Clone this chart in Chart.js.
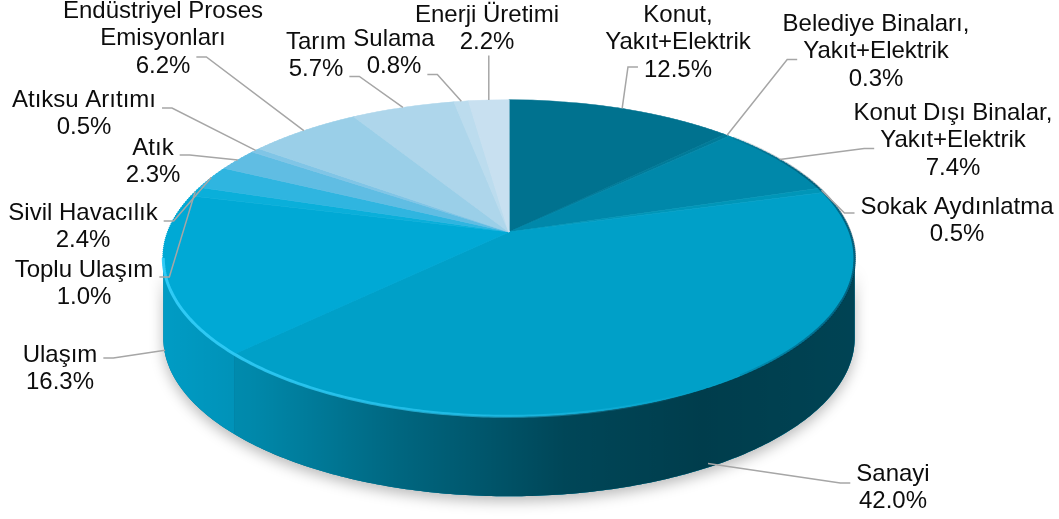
<!DOCTYPE html>
<html lang="tr">
<head>
<meta charset="UTF-8">
<title>Sektörlere Göre Emisyon Dağılımı</title>
<script src="https://cdn.jsdelivr.net/npm/chart.js"></script>
<style>
  html, body { margin: 0; padding: 0; background: #fff; }
</style>
</head>
<body>
<canvas id="myChart" width="1059" height="519"></canvas>
<script>
// sectors, clockwise from 12 o'clock
const sectors = [
  ["Konut,", "Yakıt+Elektrik"],
  ["Belediye Binaları,", "Yakıt+Elektrik"],
  ["Konut Dışı Binalar,", "Yakıt+Elektrik"],
  ["Sokak Aydınlatma"],
  ["Sanayi"],
  ["Ulaşım"],
  ["Toplu Ulaşım"],
  ["Sivil Havacılık"],
  ["Atık"],
  ["Atıksu Arıtımı"],
  ["Endüstriyel Proses", "Emisyonları"],
  ["Tarım"],
  ["Sulama"],
  ["Enerji Üretimi"]
];
const shares = [12.5, 0.3, 7.4, 0.5, 42.0, 16.3, 1.0, 2.4, 2.3, 0.5, 6.2, 5.7, 0.8, 2.2];
const sliceColors = [
  "#00728f", "#007b99", "#0088aa", "#0096b8", "#00a0c8", "#00a9d5", "#0aafda",
  "#2fb5e0", "#60bde3", "#80c5e6", "#9acfe8", "#aed6eb", "#bcdcee", "#c8e0f0"
];

// where each label sits: first line centre, which line the leader leaves from
const labelSpots = [
  { x: 678, y: 15,  line: 2, side: "l", dy: -3 },
  { x: 876, y: 24,  line: 1, side: "l", dy: 8 },
  { x: 953, y: 113, line: 1, side: "l", dy: 8 },
  { x: 957, y: 207, line: 0, side: "l", dy: 6 },
  { x: 893, y: 474, line: 0, side: "l", dy: 9 },
  { x: 60,  y: 355, line: 0, side: "r", dy: 3 },
  { x: 84,  y: 270, line: 0, side: "r", dy: 7 },
  { x: 83,  y: 213, line: 0, side: "r", dy: 8 },
  { x: 153, y: 148, line: 0, side: "r", dy: 7 },
  { x: 84,  y: 100, line: 0, side: "r", dy: 8 },
  { x: 163, y: 11,  line: 2, side: "r", dy: -9 },
  { x: 316, y: 42,  line: 1, side: "r", dy: 7 },
  { x: 394, y: 39,  line: 1, side: "r", dy: 8 },
  { x: 487, y: 15,  line: 1, side: "b", dy: 0 }
];
const lineGap = 27.5;

// tilted disc seen in perspective
const view = { cx: 509, cy: 232, a: 341, b: 154, k: 0.1645, depth: 80 };
const tR = Math.asin(view.k), tL = Math.PI - tR;

function project(u, v) {
  const w = 1 - view.k * v;
  return [view.cx + view.a * u / w, view.cy + view.b * v / w];
}
function rowToV(Y) {
  const d = Y - view.cy;
  return d / (view.b + view.k * d);
}

function rimPath(ctx, t0, t1) {
  const n = Math.max(2, Math.ceil((t1 - t0) * 80));
  ctx.beginPath();
  for (let i = 0; i <= n; i++) {
    const t = t0 + (t1 - t0) * i / n;
    const p = project(Math.cos(t), Math.sin(t));
    if (i) ctx.lineTo(p[0], p[1]); else ctx.moveTo(p[0], p[1]);
  }
  for (let i = n; i >= 0; i--) {
    const t = t0 + (t1 - t0) * i / n;
    const p = project(Math.cos(t), Math.sin(t));
    ctx.lineTo(p[0], p[1] + view.depth);
  }
  ctx.closePath();
}
function rimLine(ctx, t0, t1) {
  const n = Math.max(2, Math.ceil((t1 - t0) * 80));
  ctx.beginPath();
  for (let i = 0; i <= n; i++) {
    const t = t0 + (t1 - t0) * i / n;
    const p = project(Math.cos(t), Math.sin(t));
    if (i) ctx.lineTo(p[0], p[1]); else ctx.moveTo(p[0], p[1]);
  }
}

function drawSides(ctx, arcs) {
  ctx.save();
  // drop shadow under the whole wall
  rimPath(ctx, tR, tL);
  ctx.shadowColor = "rgba(0,0,0,0.28)";
  ctx.shadowBlur = 14;
  ctx.shadowOffsetY = 5;
  ctx.fillStyle = "#006d8c";
  ctx.fill();
  ctx.shadowColor = "transparent";

  arcs.forEach(arc => {
    const t0 = Math.max(arc.startAngle, tR), t1 = Math.min(arc.endAngle, tL);
    if (t1 <= t0) return;
    rimPath(ctx, t0, t1);
    ctx.fillStyle = arc.options.backgroundColor;
    ctx.fill();
  });

  // wall gets darker to the right
  const g = ctx.createLinearGradient(163, 0, 855, 0);
  g.addColorStop(0, "rgba(0,0,0,0.08)");
  g.addColorStop(0.13, "rgba(0,0,0,0.15)");
  g.addColorStop(0.34, "rgba(0,0,0,0.36)");
  g.addColorStop(0.58, "rgba(0,0,0,0.56)");
  g.addColorStop(0.78, "rgba(0,0,0,0.62)");
  g.addColorStop(1, "rgba(0,0,0,0.58)");
  rimPath(ctx, tR, tL);
  ctx.fillStyle = g;
  ctx.fill();
  ctx.restore();
}

function drawTop(ctx, arcs, chart) {
  const R = arcs[0].outerRadius, ax = arcs[0].x, ay = arcs[0].y;
  const top = Math.floor(view.cy - view.b / (1 + view.k)) - 2;
  const bot = Math.ceil(view.cy + view.b / (1 - view.k)) + 2;
  for (let Y0 = top; Y0 < bot; Y0 += 2) {
    const Y1 = Y0 + 2;
    const v0 = rowToV(Y0), v1 = rowToV(Y1), vm = rowToV((Y0 + Y1) / 2);
    const sx = view.a / ((1 - view.k * vm) * R);
    const sy = (Y1 - Y0) / ((v1 - v0) * R);
    ctx.save();
    ctx.beginPath();
    ctx.rect(0, Y0, chart.width, Y1 - Y0);
    ctx.clip();
    ctx.setTransform(sx, 0, 0, sy, view.cx - sx * ax, Y0 - sy * (ay + R * v0));
    arcs.forEach(a => a.draw(ctx));
    ctx.restore();
  }

  // bright lip on the front rim, fading to the right
  ctx.save();
  const hl = ctx.createLinearGradient(163, 0, 700, 0);
  hl.addColorStop(0, "rgba(50,205,248,0.95)");
  hl.addColorStop(0.6, "rgba(50,205,248,0.55)");
  hl.addColorStop(1, "rgba(50,205,248,0)");
  rimLine(ctx, Math.PI * 0.35, tL);
  ctx.strokeStyle = hl;
  ctx.lineWidth = 3;
  ctx.stroke();
  // dark edge on the right
  const dk = ctx.createLinearGradient(700, 0, 858, 0);
  dk.addColorStop(0, "rgba(0,40,60,0)");
  dk.addColorStop(1, "rgba(0,40,60,0.55)");
  rimLine(ctx, -0.75, Math.PI * 0.3);
  ctx.strokeStyle = dk;
  ctx.lineWidth = 2.5;
  ctx.stroke();
  ctx.restore();
}

function drawLabels(chart) {
  const ctx = chart.ctx;
  const arcs = chart.getDatasetMeta(0).data;
  ctx.save();
  ctx.font = '24px "Liberation Sans", Arial, sans-serif';
  ctx.textAlign = "center";
  ctx.textBaseline = "middle";
  arcs.forEach((arc, i) => {
    const spot = labelSpots[i];
    const lines = sectors[i].concat([shares[i].toFixed(1) + "%"]);
    const mid = (arc.startAngle + arc.endAngle) / 2;
    const p = project(Math.cos(mid), Math.sin(mid));
    if (mid > tR && mid < tL) p[1] += view.depth * 0.95;

    ctx.strokeStyle = "#a6a6a6";
    ctx.lineWidth = 1.5;
    ctx.beginPath();
    if (spot.side === "b") {
      ctx.moveTo(p[0], spot.y + spot.line * lineGap + 13);
      ctx.lineTo(p[0], p[1]);
    } else {
      const w = ctx.measureText(lines[spot.line]).width;
      const ly = spot.y + spot.line * lineGap + spot.dy;
      const dir = spot.side === "r" ? 1 : -1;
      const x0 = spot.x + dir * (w / 2 + 6);
      ctx.moveTo(x0, ly);
      ctx.lineTo(x0 + dir * 10, ly);
      ctx.lineTo(p[0], p[1]);
    }
    ctx.stroke();

    ctx.fillStyle = "#0d0d0d";
    lines.forEach((t, j) => ctx.fillText(t, spot.x, spot.y + j * lineGap));
  });
  ctx.restore();
}

const pie3d = {
  id: "pie3d",
  beforeDatasetsDraw(chart) {
    const arcs = chart.getDatasetMeta(0).data;
    drawSides(chart.ctx, arcs);
    drawTop(chart.ctx, arcs, chart);
    return false;
  },
  afterDraw(chart) {
    drawLabels(chart);
  }
};

new Chart(document.getElementById("myChart"), {
  type: "pie",
  data: {
    labels: sectors,
    datasets: [{
      data: shares,
      backgroundColor: sliceColors,
      borderColor: sliceColors,
      borderWidth: 1
    }]
  },
  options: {
    responsive: false,
    animation: false,
    events: [],
    plugins: {
      legend: { display: false },
      tooltip: { enabled: false }
    }
  },
  plugins: [pie3d]
});
</script>
</body>
</html>
